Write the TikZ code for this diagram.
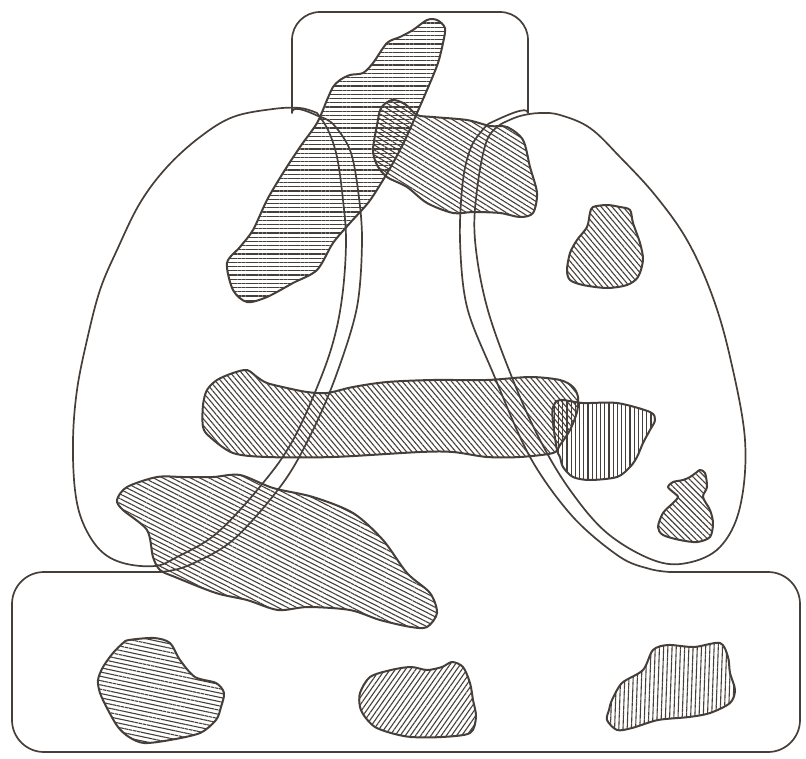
\documentclass[tikz,border=0pt]{standalone}
\usepackage{tikz}
\usetikzlibrary{patterns.meta}
\definecolor{ink}{HTML}{463E39}
\tikzset{
  region/.style={draw=ink,line width=1.7pt,line join=round},
  blob/.style={draw=ink,line width=2pt,line join=round,pattern color=ink,
    pattern={Lines[angle=#1,distance=4.2pt,line width=1.1pt]}},
}
\begin{document}
\begin{tikzpicture}[x=1pt,y=-1pt]
  \useasboundingbox (0,0) rectangle (806,758);

  % hatched patches
  \draw[blob=0] plot[smooth cycle,tension=.5] coordinates {(427,20) (437,20) (445,28) (443,43)
    (438,63) (430,83) (417,113) (405,140) (393,163) (380,185) (368,203) (350,223) (333,243)
    (317,270) (293,283) (267,297) (247,302) (233,290) (227,263) (240,247) (253,230) (267,200)
    (283,173) (300,147) (317,123) (327,100) (333,87) (340,80) (350,75) (363,73) (373,63)
    (387,43) (400,37) (413,30)};
  \draw[blob=-32] plot[smooth cycle,tension=.5] coordinates {(373,150) (377,125) (381,108)
    (392,100) (405,104) (417,115) (433,117) (467,120) (490,126) (507,127) (523,140) (530,167)
    (537,193) (533,213) (520,217) (500,213) (473,212) (453,213) (427,203) (407,187) (387,177)
    (377,165)};
  \draw[blob=-50] plot[smooth cycle,tension=.5] coordinates {(593,207) (607,205) (620,207)
    (630,210) (633,223) (640,243) (643,260) (638,277) (627,285) (607,288) (583,285) (570,280)
    (567,270) (570,253) (577,240) (587,227) (590,213)};
  \draw[blob=-50] plot[smooth cycle,tension=.5] coordinates {(207,390) (217,380) (233,373)
    (247,370) (257,377) (267,383) (287,388) (307,392) (327,393) (353,387) (387,382) (433,380)
    (487,380) (530,377) (560,380) (573,387) (578,397) (577,412) (570,430) (560,445) (553,453)
    (520,457) (487,457) (453,452) (420,452) (333,457) (267,457) (233,453) (210,437) (203,427)
    (203,405)};
  \draw[blob=90] plot[smooth cycle,tension=.5] coordinates {(553,407) (560,400) (583,403)
    (617,403) (650,412) (655,420) (650,430) (643,443) (637,457) (630,467) (617,477) (590,480)
    (573,477) (563,467) (560,457) (557,450) (553,423)};
  \draw[blob=-45] plot[smooth cycle,tension=.5] coordinates {(700,470) (705,473) (707,487)
    (703,497) (710,510) (713,523) (710,537) (697,542) (680,540) (663,535) (658,527) (663,513)
    (673,503) (678,497) (673,492) (668,487) (673,482) (683,480) (690,477) (697,472)};
  \draw[blob=-27] plot[smooth cycle,tension=.5] coordinates {(117,500) (127,487) (157,477)
    (183,477) (213,477) (240,475) (273,488) (313,497) (353,513) (383,540) (407,573) (430,593)
    (437,613) (427,627) (411,627) (380,620) (350,610) (308,607) (278,610) (247,600) (216,593)
    (175,577) (160,570) (153,557) (147,530) (123,510)};
  \draw[blob=-12] plot[smooth cycle,tension=.5] coordinates {(129,640) (154,638) (170,643)
    (180,660) (195,677) (216,683) (224,693) (221,707) (216,720) (200,733) (170,740) (144,743)
    (129,737) (118,727) (108,710) (100,693) (98,680) (103,667) (113,653) (123,643)};
  \draw[blob=55] plot[smooth cycle,tension=.5] coordinates {(360,693) (370,677) (391,670)
    (411,667) (427,670) (442,667) (452,662) (463,667) (470,683) (473,700) (476,717) (470,733)
    (442,737) (411,737) (391,733) (375,727) (365,717) (360,707)};
  \draw[blob=88] plot[smooth cycle,tension=.5] coordinates {(612,700) (622,683) (643,670)
    (653,650) (668,645) (694,647) (720,643) (728,657) (730,673) (735,690) (730,703) (710,713)
    (689,717) (658,720) (632,728) (617,730) (607,720) (609,710)};

  % outline of the A frame
  \draw[region,rounded corners=28pt] (318,116) .. controls (305,110) and (292,105) .. (292,85)
    -- (292,12) -- (528,12) -- (528,85) .. controls (528,105) and (505,116) .. (488,124);
  \draw[region] plot[smooth,tension=.55] coordinates {(318,116) (333,124) (350,150) (358,190)
    (362,240) (357,307) (337,373) (313,430) (283,483) (233,540) (187,566) (160,572)};
  \draw[region] plot[smooth,tension=.55] coordinates {(488,124) (472,145) (463,180) (460,240)
    (467,307) (493,373) (530,457) (573,517) (620,557) (650,569) (670,572)};
  \draw[region,rounded corners=32pt] (160,572) -- (12,572) -- (12,752) -- (800,752)
    -- (800,572) -- (670,572);

  % left and right loops
  \draw[region] plot[smooth,tension=.6] coordinates {(317,113) (300,108) (273,109) (233,117)
    (200,137) (167,167) (140,203) (117,250) (100,290) (87,340) (77,390) (73,440) (75,490)
    (83,523) (100,550) (123,563) (155,566) (177,557) (217,533) (263,483) (293,440) (320,380)
    (335,335) (343,290) (346,240) (343,200) (337,157) (328,130) (317,113)};
  \draw[region] plot[smooth,tension=.6] coordinates {(503,123) (520,116) (540,113) (560,115)
    (590,128) (620,157) (655,195) (687,240) (712,295) (730,357) (745,440) (740,507) (720,547)
    (687,563) (653,560) (607,533) (570,490) (540,440) (513,380) (487,307) (475,240) (477,190)
    (487,140) (503,123)};
\end{tikzpicture}
\end{document}
